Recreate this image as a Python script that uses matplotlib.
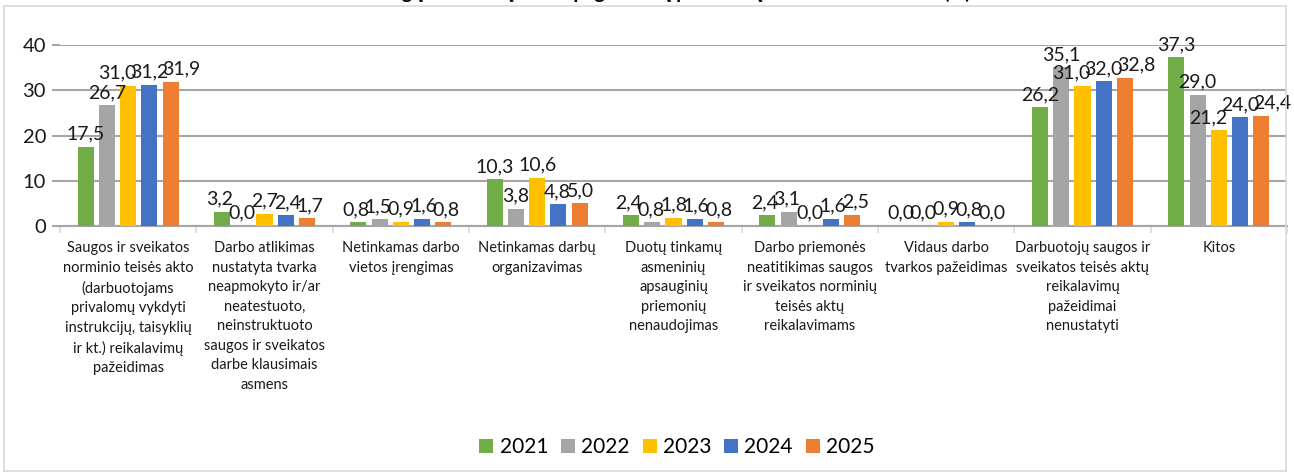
import numpy as np
import matplotlib
matplotlib.use("Agg")
import matplotlib.pyplot as plt
from matplotlib.patches import Rectangle

plt.rcParams['font.family'] = ['Lato', 'DejaVu Sans']

# --- duomenys ---
categories = [
    "Saugos ir sveikatos\nnorminio teisės akto\n(darbuotojams\nprivalomų vykdyti\ninstrukcijų, taisyklių\nir kt.) reikalavimų\npažeidimas",
    "Darbo atlikimas\nnustatyta tvarka\nneapmokyto ir/ar\nneatestuoto,\nneinstruktuoto\nsaugos ir sveikatos\ndarbe klausimais\nasmens",
    "Netinkamas darbo\nvietos įrengimas",
    "Netinkamas darbų\norganizavimas",
    "Duotų tinkamų\nasmeninių\napsauginių\npriemonių\nnenaudojimas",
    "Darbo priemonės\nneatitikimas saugos\nir sveikatos norminių\nteisės aktų\nreikalavimams",
    "Vidaus darbo\ntvarkos pažeidimas",
    "Darbuotojų saugos ir\nsveikatos teisės aktų\nreikalavimų\npažeidimai\nnenustatyti",
    "Kitos",
]
years = ["2021", "2022", "2023", "2024", "2025"]
v2021 = [17.5, 3.2, 0.8, 10.3, 2.4, 2.4, 0.0, 26.2, 37.3]
v2022 = [26.7, 0.0, 1.5, 3.8, 0.8, 3.1, 0.0, 35.1, 29.0]
v2023 = [31.0, 2.7, 0.9, 10.6, 1.8, 0.0, 0.9, 31.0, 21.2]
v2024 = [31.2, 2.4, 1.6, 4.8, 1.6, 1.6, 0.8, 32.0, 24.0]
v2025 = [31.9, 1.7, 0.8, 5.0, 0.8, 2.5, 0.0, 32.8, 24.4]
series = [v2021, v2022, v2023, v2024, v2025]
colors = ['#70AD47', '#A5A5A5', '#FFC000', '#4472C4', '#ED7D31']
title = "Nelaimingų atsitikimų darbe pagrindinių priežasčių dalis 2021–2025 m. (%)"

grid_c = '#A6A6A6'

fig = plt.figure(figsize=(12.94, 4.73), dpi=100)
ax = fig.add_axes([60 / 1294, 1 - 226 / 473, (1287 - 60) / 1294, (226 - 45) / 473])

x = np.arange(len(categories))
step = 0.156
width = 0.118
labels = []  # [serija][kategorija]
for i, (vals, col, yr) in enumerate(zip(series, colors, years)):
    pos = x + (i - 2) * step
    bars = ax.bar(pos, vals, width=width, color=col, label=yr, zorder=3)
    row = []
    for b, v in zip(bars, vals):
        t = ax.annotate(f"{v:.1f}".replace('.', ','), (b.get_x() + b.get_width() / 2, v),
                        xytext=(0, 3), textcoords='offset points', ha='center', va='bottom',
                        fontsize=14, color='#1a1a1a', zorder=4)
        row.append(t)
    labels.append(row)

ax.set_xlim(-0.5, len(categories) - 0.5)
ax.set_ylim(0, 40)
ax.set_yticks([0, 10, 20, 30, 40])
ax.yaxis.grid(True, color=grid_c, linewidth=1.5, zorder=0)
ax.tick_params(axis='y', length=6, width=1.5, color=grid_c, labelsize=14.5, pad=4, labelcolor='#1a1a1a')

ax.set_xticks(x)
ax.set_xticklabels(categories, fontsize=10.5, linespacing=1.5, color='#1a1a1a')
ax.set_xticks(np.arange(-0.5, len(categories)), minor=True)
ax.tick_params(axis='x', which='major', length=0, pad=11)
ax.tick_params(axis='x', which='minor', length=5, width=1.2, color='#D9D9D9')

for s in ['top', 'right', 'left']:
    ax.spines[s].set_visible(False)
ax.spines['bottom'].set_color(grid_c)
ax.spines['bottom'].set_linewidth(1.5)

# etikečių išskleidimas (panašiai kaip Excel, kad mažiau persidengtų)
fig.canvas.draw()
rend = fig.canvas.get_renderer()
for c in range(len(categories)):
    boxes = [labels[i][c].get_window_extent(rend) for i in range(len(series))]
    px = np.array([(b.x0 + b.x1) / 2 for b in boxes])
    py = np.array([b.y0 for b in boxes])
    w = np.array([b.width for b in boxes])
    h = boxes[0].height
    orig = px.copy()
    for _ in range(60):
        for j in range(len(px) - 1):
            if abs(py[j] - py[j + 1]) < h * 0.9:
                need = 0.42 * (w[j] + w[j + 1])
                gap = px[j + 1] - px[j]
                if gap < need:
                    d = (need - gap) / 2
                    px[j] -= d
                    px[j + 1] += d
    for i in range(len(series)):
        labels[i][c].xyann = ((px[i] - orig[i]) * 72 / fig.dpi, 3)

fig.legend(loc='center', bbox_to_anchor=(677 / 1294, 1 - 447 / 473), ncol=5, frameon=False,
           fontsize=15, handlelength=0.67, handleheight=0.67, handletextpad=0.3,
           columnspacing=0.62)

# apkarpytas pavadinimas ir rėmelis
fig.text(0.5, 1 + 1.5 / 473, title, ha='center', va='baseline', fontsize=14, fontweight='bold')
fig.add_artist(Rectangle((4 / 1294, 2 / 473), 1282 / 1294, 465 / 473, transform=fig.transFigure,
                         fill=False, edgecolor='#D9D9D9', linewidth=1.2))

fig.savefig('out.png', dpi=100)
